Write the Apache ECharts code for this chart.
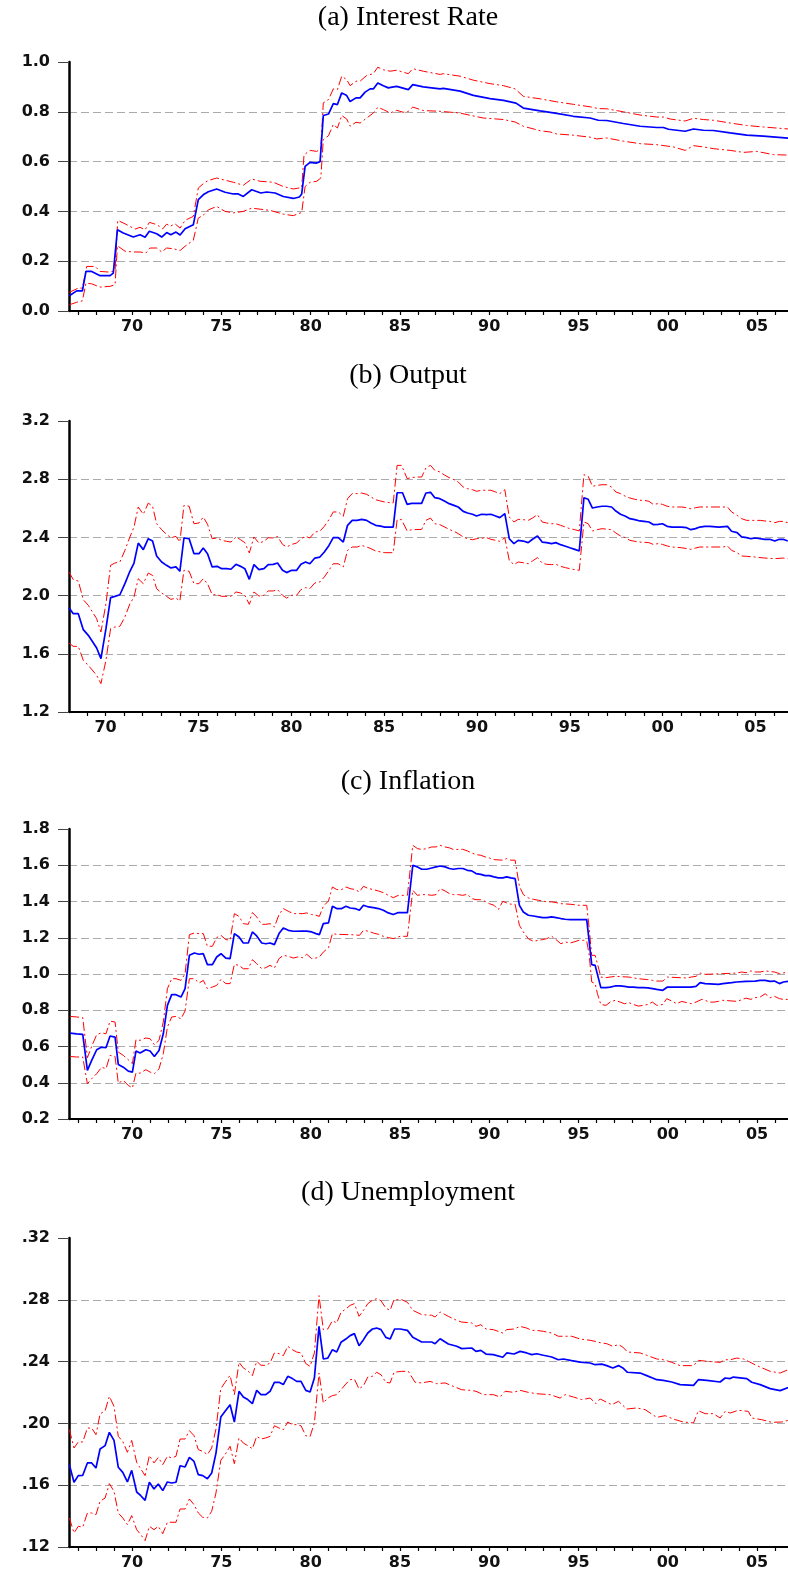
<!DOCTYPE html>
<html>
<head>
<meta charset="utf-8">
<script src="https://cdn.jsdelivr.net/npm/echarts@6/dist/echarts.min.js"></script>
<style>
  html, body { margin: 0; padding: 0; background: #fff; }
  #chart { width: 788px; height: 1577px; }
</style>
</head>
<body>
<div id="chart"></div>
<script>
// panel titles
const titles = ['(a) Interest Rate', '(b) Output', '(c) Inflation', '(d) Unemployment'];
const labelYears = [1970, 1975, 1980, 1985, 1990, 1995, 2000, 2005];

// (a) interest rate: [year, value]
const rateMid = [[1966.49,0.061],[1966.90,0.081],[1967.22,0.081],[1967.42,0.159],[1967.74,0.159],[1968.21,0.142],[1968.77,0.142],[1968.95,0.152],[1969.18,0.326],[1969.51,0.313],[1970.07,0.297],[1970.45,0.306],[1970.73,0.296],[1970.97,0.320],[1971.38,0.31],[1971.66,0.297],[1971.94,0.315],[1972.17,0.306],[1972.46,0.317],[1972.69,0.305],[1972.97,0.330],[1973.43,0.346],[1973.71,0.447],[1974.03,0.469],[1974.27,0.479],[1974.74,0.490],[1975.21,0.477],[1975.67,0.470],[1975.95,0.470],[1976.23,0.460],[1976.70,0.487],[1977.21,0.474],[1977.54,0.478],[1978.01,0.474],[1978.47,0.460],[1979.03,0.452],[1979.37,0.458],[1979.50,0.470],[1979.69,0.581],[1979.97,0.597],[1980.30,0.594],[1980.53,0.600],[1980.71,0.785],[1981.00,0.791],[1981.27,0.833],[1981.50,0.829],[1981.74,0.876],[1982.02,0.865],[1982.21,0.841],[1982.54,0.856],[1982.77,0.856],[1983.05,0.879],[1983.33,0.892],[1983.51,0.892],[1983.76,0.916],[1984.07,0.905],[1984.35,0.896],[1984.64,0.9],[1984.82,0.902],[1985.47,0.889],[1985.72,0.909],[1986.31,0.9],[1987.25,0.892],[1987.43,0.894],[1988.37,0.883],[1989.11,0.866],[1990.05,0.853],[1990.80,0.846],[1991.50,0.835],[1991.91,0.815],[1992.85,0.804],[1993.78,0.794],[1994.71,0.782],[1995.65,0.775],[1996.11,0.766],[1996.58,0.765],[1997.51,0.753],[1998.45,0.742],[1999.38,0.737],[1999.75,0.737],[2000.04,0.73],[2000.97,0.722],[2001.44,0.731],[2001.99,0.726],[2002.55,0.725],[2003.49,0.715],[2004.42,0.706],[2005.35,0.702],[2006.75,0.694]];
const rateUp = [[1966.49,0.075],[1966.99,0.092],[1967.22,0.092],[1967.46,0.179],[1967.93,0.179],[1968.21,0.159],[1968.77,0.156],[1969.05,0.163],[1969.20,0.364],[1969.61,0.35],[1970.17,0.329],[1970.45,0.336],[1970.73,0.326],[1970.97,0.356],[1971.38,0.347],[1971.72,0.33],[1971.94,0.349],[1972.13,0.34],[1972.41,0.35],[1972.69,0.333],[1972.97,0.364],[1973.43,0.38],[1973.71,0.494],[1974.03,0.514],[1974.27,0.524],[1974.74,0.534],[1975.67,0.517],[1976.23,0.505],[1976.70,0.53],[1977.17,0.521],[1977.91,0.517],[1978.47,0.5],[1979.03,0.49],[1979.50,0.496],[1979.63,0.627],[1979.97,0.645],[1980.34,0.641],[1980.57,0.651],[1980.71,0.836],[1981.00,0.849],[1981.27,0.892],[1981.50,0.889],[1981.74,0.943],[1982.02,0.929],[1982.21,0.905],[1982.54,0.923],[1982.77,0.923],[1983.14,0.946],[1983.51,0.953],[1983.76,0.979],[1984.07,0.969],[1984.45,0.963],[1984.82,0.967],[1985.47,0.953],[1985.72,0.973],[1986.31,0.963],[1987.25,0.95],[1987.43,0.953],[1988.37,0.943],[1989.11,0.927],[1990.05,0.913],[1990.80,0.905],[1991.45,0.892],[1991.91,0.862],[1992.85,0.852],[1993.78,0.84],[1994.71,0.83],[1995.65,0.82],[1996.11,0.813],[1996.58,0.812],[1997.51,0.8],[1998.45,0.787],[1999.38,0.779],[1999.75,0.779],[2000.13,0.771],[2000.97,0.763],[2001.44,0.774],[2001.99,0.769],[2002.55,0.766],[2003.49,0.755],[2004.42,0.745],[2005.35,0.739],[2006.75,0.731]];
const rateLo = [[1966.49,0.025],[1966.90,0.035],[1967.22,0.041],[1967.42,0.112],[1967.74,0.109],[1968.21,0.096],[1968.77,0.099],[1969.05,0.106],[1969.18,0.262],[1969.61,0.24],[1970.07,0.237],[1970.45,0.237],[1970.78,0.233],[1971.01,0.253],[1971.38,0.253],[1971.66,0.237],[1971.94,0.253],[1972.31,0.25],[1972.69,0.243],[1972.97,0.26],[1973.43,0.284],[1973.71,0.373],[1974.03,0.387],[1974.27,0.406],[1974.74,0.42],[1975.21,0.4],[1975.67,0.394],[1976.23,0.4],[1976.70,0.413],[1977.17,0.409],[1977.73,0.404],[1978.47,0.389],[1979.03,0.383],[1979.50,0.396],[1979.69,0.5],[1979.97,0.517],[1980.34,0.521],[1980.57,0.534],[1980.71,0.688],[1981.00,0.704],[1981.27,0.749],[1981.50,0.735],[1981.74,0.785],[1982.02,0.771],[1982.21,0.742],[1982.54,0.758],[1982.77,0.755],[1983.14,0.775],[1983.51,0.795],[1983.76,0.818],[1984.07,0.809],[1984.45,0.795],[1984.82,0.806],[1985.19,0.798],[1985.47,0.802],[1985.72,0.819],[1986.31,0.805],[1987.25,0.802],[1988.37,0.795],[1988.93,0.786],[1989.67,0.775],[1990.80,0.769],[1991.45,0.759],[1991.91,0.742],[1992.85,0.724],[1993.41,0.719],[1993.78,0.711],[1994.71,0.706],[1995.65,0.698],[1996.02,0.691],[1996.58,0.695],[1997.51,0.682],[1998.45,0.672],[1999.38,0.668],[2000.31,0.659],[2000.97,0.645],[2001.44,0.664],[2001.99,0.659],[2002.55,0.652],[2003.49,0.645],[2004.24,0.637],[2004.98,0.641],[2005.91,0.628],[2006.75,0.626]];

// (b) output
const outMid = [[1968.03,1.917],[1968.26,1.876],[1968.53,1.876],[1968.80,1.766],[1969.07,1.727],[1969.52,1.64],[1969.75,1.567],[1970.02,1.773],[1970.27,1.986],[1970.50,1.995],[1970.77,2.006],[1971.04,2.082],[1971.31,2.167],[1971.53,2.224],[1971.76,2.361],[1972.03,2.316],[1972.30,2.391],[1972.53,2.375],[1972.75,2.272],[1973.02,2.231],[1973.28,2.208],[1973.52,2.19],[1973.79,2.197],[1974.00,2.167],[1974.22,2.396],[1974.50,2.391],[1974.76,2.288],[1975.03,2.288],[1975.26,2.327],[1975.49,2.288],[1975.74,2.197],[1976.01,2.201],[1976.25,2.185],[1976.52,2.185],[1976.75,2.181],[1977.02,2.215],[1977.27,2.201],[1977.50,2.185],[1977.74,2.112],[1977.99,2.213],[1978.26,2.178],[1978.53,2.185],[1978.76,2.213],[1979.03,2.215],[1979.26,2.224],[1979.53,2.174],[1979.75,2.158],[1980.02,2.174],[1980.29,2.174],[1980.52,2.215],[1980.77,2.231],[1981.00,2.219],[1981.27,2.258],[1981.54,2.265],[1981.78,2.3],[1982.03,2.345],[1982.26,2.398],[1982.53,2.398],[1982.80,2.368],[1983.03,2.483],[1983.28,2.517],[1983.55,2.517],[1983.79,2.524],[1984.06,2.517],[1984.29,2.499],[1984.54,2.483],[1984.81,2.478],[1985.04,2.471],[1985.49,2.471],[1985.70,2.707],[1985.99,2.707],[1986.24,2.627],[1986.48,2.634],[1987.02,2.634],[1987.25,2.705],[1987.50,2.71],[1987.73,2.673],[1988.00,2.666],[1988.27,2.648],[1988.50,2.632],[1988.76,2.62],[1988.99,2.609],[1989.26,2.579],[1989.49,2.568],[1989.76,2.559],[1989.98,2.547],[1990.25,2.559],[1990.52,2.556],[1990.75,2.559],[1991.00,2.547],[1991.23,2.536],[1991.50,2.563],[1991.74,2.391],[1991.99,2.357],[1992.22,2.38],[1992.49,2.375],[1992.76,2.364],[1992.99,2.387],[1993.26,2.41],[1993.51,2.368],[1993.75,2.364],[1994.02,2.357],[1994.25,2.364],[1994.50,2.35],[1994.77,2.339],[1995.00,2.329],[1995.27,2.318],[1995.51,2.307],[1995.76,2.673],[1995.99,2.662],[1996.22,2.602],[1996.47,2.609],[1996.74,2.614],[1996.98,2.614],[1997.25,2.609],[1997.48,2.581],[1997.73,2.559],[1998.00,2.545],[1998.23,2.529],[1998.50,2.522],[1998.77,2.513],[1999.00,2.51],[1999.26,2.506],[1999.49,2.488],[1999.76,2.49],[1999.99,2.494],[2000.24,2.476],[2000.51,2.471],[2001.02,2.471],[2001.29,2.467],[2001.52,2.453],[2001.77,2.46],[2002.00,2.471],[2002.27,2.476],[2002.54,2.476],[2003.03,2.471],[2003.49,2.476],[2003.71,2.442],[2004.01,2.433],[2004.25,2.403],[2004.52,2.398],[2004.75,2.391],[2005.00,2.396],[2005.50,2.387],[2005.77,2.387],[2006.04,2.375],[2006.28,2.387],[2006.49,2.387],[2006.74,2.375]];
const outUp = [[1968.03,2.162],[1968.26,2.11],[1968.53,2.1],[1968.80,1.972],[1969.07,1.933],[1969.52,1.841],[1969.75,1.75],[1970.02,1.944],[1970.27,2.208],[1970.50,2.224],[1970.77,2.231],[1971.04,2.311],[1971.31,2.403],[1971.53,2.471],[1971.76,2.609],[1972.03,2.559],[1972.30,2.636],[1972.53,2.614],[1972.75,2.494],[1973.02,2.453],[1973.28,2.421],[1973.52,2.398],[1973.79,2.407],[1974.00,2.368],[1974.22,2.62],[1974.50,2.614],[1974.76,2.494],[1975.03,2.499],[1975.26,2.54],[1975.49,2.49],[1975.74,2.391],[1976.01,2.396],[1976.25,2.38],[1976.52,2.373],[1976.75,2.368],[1977.02,2.403],[1977.27,2.384],[1977.50,2.364],[1977.74,2.293],[1977.99,2.403],[1978.26,2.361],[1978.53,2.373],[1978.76,2.398],[1979.03,2.396],[1979.26,2.407],[1979.53,2.352],[1979.75,2.334],[1980.02,2.352],[1980.29,2.361],[1980.52,2.391],[1980.77,2.407],[1981.00,2.396],[1981.27,2.437],[1981.54,2.442],[1981.78,2.476],[1982.03,2.522],[1982.26,2.575],[1982.53,2.575],[1982.80,2.545],[1983.03,2.666],[1983.28,2.701],[1983.55,2.701],[1983.79,2.705],[1984.06,2.696],[1984.29,2.678],[1984.54,2.659],[1984.81,2.65],[1985.04,2.643],[1985.49,2.636],[1985.70,2.895],[1985.94,2.895],[1986.24,2.804],[1986.48,2.811],[1986.75,2.815],[1987.02,2.815],[1987.25,2.877],[1987.50,2.895],[1987.73,2.861],[1988.00,2.85],[1988.27,2.827],[1988.50,2.811],[1988.76,2.797],[1988.99,2.781],[1989.26,2.746],[1989.49,2.735],[1989.76,2.728],[1989.98,2.717],[1990.25,2.724],[1990.75,2.724],[1991.00,2.712],[1991.23,2.701],[1991.50,2.728],[1991.74,2.54],[1991.99,2.506],[1992.22,2.524],[1992.49,2.522],[1992.76,2.517],[1992.99,2.533],[1993.26,2.556],[1993.51,2.506],[1993.75,2.499],[1994.02,2.494],[1994.25,2.494],[1994.50,2.483],[1994.77,2.471],[1995.00,2.46],[1995.27,2.453],[1995.51,2.444],[1995.76,2.831],[1995.99,2.82],[1996.22,2.751],[1996.47,2.758],[1996.74,2.762],[1996.98,2.762],[1997.25,2.746],[1997.48,2.712],[1997.73,2.701],[1998.00,2.682],[1998.23,2.671],[1998.50,2.662],[1998.77,2.655],[1999.00,2.655],[1999.26,2.648],[1999.49,2.627],[1999.76,2.632],[1999.99,2.627],[2000.24,2.614],[2000.51,2.609],[2001.02,2.609],[2001.29,2.604],[2001.52,2.597],[2001.77,2.604],[2002.00,2.609],[2003.49,2.609],[2003.71,2.575],[2004.01,2.552],[2004.25,2.529],[2004.52,2.517],[2005.27,2.517],[2005.50,2.513],[2005.77,2.51],[2006.04,2.501],[2006.28,2.51],[2006.49,2.51],[2006.74,2.501]];
const outLo = [[1968.03,1.674],[1968.26,1.651],[1968.53,1.651],[1968.80,1.555],[1969.07,1.521],[1969.52,1.452],[1969.75,1.395],[1970.02,1.555],[1970.27,1.773],[1970.50,1.784],[1970.77,1.789],[1971.04,1.853],[1971.31,1.944],[1971.53,1.99],[1971.76,2.116],[1972.03,2.082],[1972.30,2.155],[1972.53,2.139],[1972.75,2.047],[1973.02,2.018],[1973.28,1.995],[1973.52,1.974],[1973.79,1.983],[1974.00,1.963],[1974.22,2.174],[1974.50,2.167],[1974.76,2.082],[1975.03,2.082],[1975.26,2.116],[1975.49,2.082],[1975.74,2.006],[1976.01,2.006],[1976.25,1.995],[1976.75,1.995],[1977.02,2.025],[1977.27,2.018],[1977.50,2.002],[1977.74,1.94],[1977.99,2.025],[1978.26,1.997],[1978.53,2.002],[1978.76,2.032],[1979.03,2.032],[1979.26,2.041],[1979.53,2.002],[1979.75,1.983],[1980.02,2.002],[1980.29,2.002],[1980.52,2.041],[1980.77,2.055],[1981.00,2.048],[1981.27,2.087],[1981.54,2.094],[1981.78,2.128],[1982.03,2.174],[1982.26,2.219],[1982.53,2.219],[1982.80,2.197],[1983.03,2.311],[1983.28,2.334],[1983.55,2.334],[1983.79,2.345],[1984.06,2.334],[1984.29,2.323],[1984.54,2.307],[1984.81,2.3],[1985.04,2.295],[1985.49,2.295],[1985.70,2.522],[1985.94,2.522],[1986.24,2.444],[1986.48,2.453],[1987.02,2.455],[1987.25,2.517],[1987.50,2.533],[1987.73,2.494],[1988.00,2.488],[1988.27,2.471],[1988.50,2.455],[1988.76,2.442],[1988.99,2.426],[1989.26,2.403],[1989.49,2.391],[1989.76,2.384],[1989.98,2.391],[1990.52,2.398],[1990.75,2.387],[1991.00,2.38],[1991.23,2.373],[1991.50,2.398],[1991.74,2.242],[1991.99,2.213],[1992.22,2.231],[1992.49,2.226],[1992.76,2.219],[1992.99,2.238],[1993.26,2.261],[1993.51,2.224],[1993.75,2.215],[1994.02,2.213],[1994.25,2.215],[1994.50,2.201],[1994.77,2.192],[1995.00,2.185],[1995.27,2.178],[1995.51,2.174],[1995.76,2.506],[1995.99,2.494],[1996.22,2.444],[1996.47,2.453],[1996.74,2.46],[1997.25,2.453],[1997.48,2.43],[1997.73,2.41],[1998.00,2.398],[1998.23,2.38],[1998.50,2.373],[1998.77,2.368],[1999.26,2.364],[1999.49,2.352],[1999.76,2.357],[1999.99,2.352],[2000.24,2.341],[2000.51,2.334],[2001.02,2.329],[2001.52,2.318],[2001.77,2.327],[2002.00,2.334],[2003.26,2.334],[2003.49,2.341],[2003.71,2.311],[2004.01,2.295],[2004.25,2.272],[2004.52,2.27],[2005.00,2.265],[2005.50,2.258],[2006.04,2.254],[2006.49,2.258],[2006.74,2.254]];

// (c) inflation
const inflMid = [[1966.53,0.674],[1966.90,0.670],[1967.24,0.667],[1967.50,0.468],[1967.74,0.523],[1968.02,0.582],[1968.30,0.597],[1968.54,0.593],[1968.77,0.658],[1969.05,0.652],[1969.23,0.501],[1969.51,0.486],[1969.79,0.464],[1970.02,0.459],[1970.22,0.575],[1970.45,0.564],[1970.77,0.582],[1971.01,0.575],[1971.25,0.545],[1971.51,0.578],[1971.75,0.67],[1971.98,0.827],[1972.22,0.886],[1972.46,0.886],[1972.74,0.873],[1972.97,0.919],[1973.21,1.103],[1973.49,1.116],[1973.75,1.109],[1973.99,1.112],[1974.22,1.052],[1974.50,1.052],[1974.74,1.094],[1974.98,1.112],[1975.25,1.088],[1975.49,1.085],[1975.73,1.223],[1975.99,1.204],[1976.23,1.171],[1976.51,1.171],[1976.74,1.232],[1976.98,1.21],[1977.26,1.171],[1977.49,1.167],[1977.73,1.171],[1977.97,1.162],[1978.23,1.223],[1978.47,1.254],[1978.75,1.241],[1979.03,1.236],[1979.56,1.237],[1979.78,1.237],[1980.06,1.232],[1980.30,1.223],[1980.49,1.217],[1980.71,1.278],[1981.00,1.282],[1981.22,1.374],[1981.46,1.361],[1981.74,1.361],[1981.98,1.374],[1982.21,1.364],[1982.49,1.361],[1982.73,1.352],[1982.96,1.379],[1983.24,1.37],[1983.51,1.366],[1983.80,1.361],[1984.07,1.352],[1984.35,1.337],[1984.63,1.328],[1984.91,1.339],[1985.42,1.339],[1985.72,1.6],[1985.98,1.591],[1986.22,1.578],[1986.50,1.578],[1986.78,1.585],[1987.02,1.591],[1987.25,1.596],[1987.53,1.591],[1987.77,1.582],[1987.99,1.578],[1988.27,1.582],[1988.52,1.582],[1988.78,1.572],[1989.02,1.569],[1989.26,1.554],[1989.53,1.55],[1989.77,1.543],[1990.01,1.543],[1990.27,1.536],[1990.51,1.53],[1990.76,1.53],[1990.98,1.536],[1991.21,1.53],[1991.45,1.526],[1991.69,1.379],[1991.91,1.342],[1992.19,1.324],[1992.47,1.32],[1992.75,1.315],[1993.00,1.311],[1993.22,1.311],[1993.50,1.315],[1993.74,1.311],[1994.01,1.306],[1994.25,1.302],[1994.53,1.3],[1995.46,1.3],[1995.59,1.186],[1995.74,1.052],[1995.93,1.048],[1996.06,0.998],[1996.25,0.925],[1996.54,0.925],[1996.77,0.928],[1997.05,0.934],[1997.33,0.934],[1997.57,0.932],[1997.83,0.928],[1998.07,0.928],[1998.35,0.925],[1998.64,0.925],[1998.88,0.923],[1999.14,0.919],[1999.38,0.915],[1999.72,0.91],[1999.98,0.928],[2001.30,0.928],[2001.58,0.932],[2001.81,0.952],[2002.09,0.947],[2002.84,0.943],[2003.08,0.947],[2003.58,0.952],[2003.86,0.956],[2004.38,0.959],[2004.89,0.961],[2005.17,0.965],[2005.45,0.965],[2005.73,0.959],[2005.97,0.961],[2006.25,0.947],[2006.47,0.956],[2006.75,0.959]];
const inflUp = [[1966.53,0.766],[1966.90,0.763],[1967.24,0.759],[1967.50,0.538],[1967.74,0.601],[1968.02,0.665],[1968.30,0.676],[1968.54,0.670],[1968.77,0.74],[1969.05,0.735],[1969.23,0.569],[1969.51,0.551],[1969.79,0.527],[1970.02,0.505],[1970.22,0.637],[1970.45,0.634],[1970.77,0.647],[1971.01,0.643],[1971.25,0.61],[1971.51,0.634],[1971.75,0.735],[1971.98,0.919],[1972.22,0.974],[1972.46,0.974],[1972.74,0.965],[1972.97,1.002],[1973.21,1.217],[1973.49,1.226],[1973.75,1.223],[1973.99,1.223],[1974.22,1.153],[1974.50,1.153],[1974.74,1.201],[1974.98,1.213],[1975.25,1.19],[1975.49,1.186],[1975.73,1.333],[1975.99,1.318],[1976.23,1.278],[1976.51,1.274],[1976.74,1.339],[1976.98,1.315],[1977.26,1.274],[1977.49,1.274],[1977.73,1.278],[1977.97,1.259],[1978.23,1.328],[1978.47,1.361],[1978.75,1.346],[1979.03,1.333],[1979.56,1.333],[1979.78,1.337],[1980.06,1.328],[1980.30,1.324],[1980.49,1.318],[1980.71,1.374],[1981.00,1.403],[1981.22,1.48],[1981.46,1.466],[1981.74,1.466],[1981.98,1.48],[1982.21,1.471],[1982.49,1.466],[1982.73,1.453],[1982.96,1.484],[1983.24,1.471],[1983.51,1.466],[1983.80,1.458],[1984.07,1.449],[1984.35,1.434],[1984.63,1.421],[1984.91,1.434],[1985.42,1.434],[1985.72,1.71],[1985.98,1.692],[1986.22,1.687],[1986.50,1.692],[1986.78,1.701],[1987.02,1.701],[1987.25,1.71],[1987.53,1.701],[1987.77,1.696],[1987.99,1.687],[1988.52,1.688],[1988.78,1.679],[1989.02,1.668],[1989.26,1.659],[1989.53,1.655],[1989.77,1.646],[1990.01,1.64],[1990.27,1.631],[1990.76,1.628],[1990.98,1.637],[1991.21,1.628],[1991.45,1.628],[1991.69,1.484],[1991.91,1.438],[1992.19,1.42],[1992.47,1.412],[1992.75,1.407],[1993.00,1.403],[1993.22,1.398],[1993.50,1.398],[1993.74,1.394],[1994.01,1.388],[1994.53,1.385],[1995.03,1.379],[1995.46,1.379],[1995.59,1.259],[1995.74,1.103],[1995.93,1.103],[1996.06,1.057],[1996.25,0.983],[1996.54,0.98],[1997.05,0.987],[1997.83,0.983],[1998.35,0.974],[1998.88,0.969],[1999.14,0.965],[1999.38,0.961],[1999.72,0.961],[1999.98,0.983],[2001.06,0.978],[2001.30,0.983],[2001.58,0.987],[2001.81,1.005],[2002.09,0.998],[2003.08,1.002],[2003.86,1.005],[2004.14,1.011],[2004.38,1.007],[2004.65,1.017],[2004.89,1.011],[2005.17,1.011],[2005.45,1.017],[2005.97,1.011],[2006.25,1.002],[2006.75,1.011]];
const inflLo = [[1966.53,0.545],[1966.90,0.542],[1967.24,0.542],[1967.50,0.394],[1967.74,0.422],[1968.02,0.45],[1968.30,0.486],[1968.54,0.477],[1968.77,0.551],[1969.05,0.545],[1969.23,0.398],[1969.51,0.413],[1969.79,0.385],[1970.02,0.372],[1970.22,0.453],[1970.45,0.453],[1970.77,0.472],[1971.01,0.459],[1971.25,0.45],[1971.51,0.477],[1971.75,0.56],[1971.98,0.707],[1972.22,0.763],[1972.46,0.766],[1972.74,0.753],[1972.97,0.796],[1973.21,0.974],[1973.49,0.974],[1973.75,0.95],[1973.99,0.965],[1974.22,0.919],[1974.50,0.928],[1974.74,0.937],[1974.98,0.97],[1975.25,0.947],[1975.49,0.947],[1975.73,1.053],[1975.99,1.048],[1976.23,1.029],[1976.51,1.029],[1976.74,1.079],[1976.98,1.057],[1977.26,1.029],[1977.49,1.035],[1977.73,1.048],[1977.97,1.033],[1978.23,1.085],[1978.47,1.103],[1978.75,1.098],[1979.03,1.088],[1979.28,1.094],[1979.56,1.09],[1979.78,1.109],[1980.06,1.085],[1980.30,1.088],[1980.49,1.094],[1980.71,1.121],[1981.00,1.145],[1981.22,1.223],[1981.46,1.219],[1982.49,1.216],[1982.73,1.213],[1982.96,1.241],[1983.24,1.236],[1983.51,1.226],[1983.80,1.219],[1984.07,1.208],[1984.35,1.201],[1984.63,1.195],[1985.01,1.208],[1985.42,1.208],[1985.72,1.462],[1985.98,1.434],[1986.22,1.438],[1986.50,1.438],[1986.78,1.434],[1987.02,1.438],[1987.25,1.471],[1987.53,1.458],[1987.77,1.444],[1987.99,1.438],[1988.27,1.438],[1988.52,1.434],[1988.78,1.44],[1989.02,1.416],[1989.26,1.41],[1989.53,1.41],[1989.77,1.401],[1990.01,1.388],[1990.27,1.379],[1990.51,1.355],[1990.76,1.401],[1990.98,1.392],[1991.21,1.385],[1991.45,1.385],[1991.69,1.269],[1991.91,1.232],[1992.19,1.195],[1992.47,1.18],[1992.75,1.186],[1993.00,1.19],[1993.22,1.195],[1993.50,1.208],[1993.74,1.19],[1994.01,1.167],[1994.25,1.177],[1994.53,1.171],[1994.75,1.177],[1995.03,1.186],[1995.27,1.186],[1995.46,1.182],[1995.59,1.112],[1995.74,0.956],[1995.93,0.947],[1996.06,0.891],[1996.25,0.832],[1996.54,0.827],[1996.77,0.845],[1997.05,0.855],[1997.33,0.845],[1997.57,0.836],[1997.83,0.842],[1998.07,0.832],[1998.35,0.823],[1998.64,0.827],[1998.88,0.832],[1999.14,0.845],[1999.38,0.827],[1999.72,0.832],[1999.94,0.864],[2000.26,0.849],[2000.50,0.836],[2000.78,0.849],[2001.06,0.842],[2001.30,0.836],[2001.58,0.845],[2001.90,0.86],[2002.09,0.855],[2002.33,0.845],[2002.59,0.845],[2002.84,0.849],[2003.08,0.855],[2003.86,0.849],[2004.14,0.858],[2004.38,0.867],[2004.65,0.86],[2004.89,0.869],[2005.17,0.873],[2005.45,0.891],[2005.73,0.869],[2005.97,0.877],[2006.25,0.864],[2006.47,0.86],[2006.75,0.86]];

// (d) unemployment
const unempMid = [[1966.49,0.1733],[1966.75,0.1619],[1966.99,0.1662],[1967.24,0.1664],[1967.50,0.1744],[1967.74,0.1744],[1967.98,0.1711],[1968.21,0.1834],[1968.49,0.1856],[1968.73,0.1942],[1968.99,0.189],[1969.23,0.1716],[1969.48,0.1683],[1969.74,0.1621],[1969.98,0.1696],[1970.26,0.1556],[1970.49,0.1532],[1970.73,0.1502],[1970.97,0.1619],[1971.23,0.1575],[1971.47,0.1608],[1971.72,0.1565],[1971.98,0.1621],[1972.22,0.1614],[1972.46,0.1619],[1972.69,0.1726],[1972.97,0.1718],[1973.21,0.178],[1973.47,0.1754],[1973.71,0.1668],[1973.96,0.1662],[1974.22,0.1642],[1974.46,0.1679],[1974.70,0.1808],[1974.97,0.2041],[1975.21,0.2078],[1975.49,0.2121],[1975.73,0.2009],[1975.99,0.2208],[1976.23,0.2171],[1976.48,0.2154],[1976.74,0.2128],[1976.98,0.2214],[1977.22,0.2186],[1977.49,0.2186],[1977.73,0.2208],[1977.97,0.2266],[1978.23,0.2266],[1978.47,0.2251],[1978.72,0.2305],[1978.98,0.229],[1979.22,0.2272],[1979.46,0.2272],[1979.73,0.2214],[1979.97,0.2203],[1980.21,0.2294],[1980.47,0.2628],[1980.71,0.2417],[1980.96,0.2423],[1981.22,0.2477],[1981.46,0.2462],[1981.70,0.2525],[1981.97,0.2546],[1982.21,0.2568],[1982.45,0.2581],[1982.71,0.2503],[1982.96,0.2542],[1983.20,0.2585],[1983.46,0.2611],[1983.70,0.2617],[1983.94,0.2607],[1984.21,0.2557],[1984.45,0.2546],[1984.70,0.2611],[1985.01,0.2611],[1985.42,0.2602],[1985.72,0.2557],[1986.22,0.2527],[1986.78,0.2527],[1986.97,0.2516],[1987.25,0.2548],[1987.71,0.2514],[1988.18,0.2499],[1988.46,0.2484],[1989.02,0.2488],[1989.26,0.2466],[1989.53,0.2473],[1989.82,0.2449],[1990.23,0.2445],[1990.76,0.2428],[1990.98,0.2456],[1991.39,0.2449],[1991.73,0.2466],[1992.10,0.2456],[1992.38,0.2445],[1992.66,0.2451],[1993.03,0.2441],[1993.50,0.243],[1993.87,0.2412],[1994.15,0.2417],[1994.62,0.2406],[1995.09,0.2397],[1995.65,0.2391],[1995.93,0.238],[1996.30,0.2384],[1996.58,0.2374],[1996.92,0.2359],[1997.24,0.2374],[1997.48,0.2359],[1997.74,0.2331],[1998.45,0.2326],[1998.82,0.2309],[1999.38,0.2283],[1999.75,0.2279],[2000.22,0.2268],[2000.69,0.2251],[2001.44,0.2246],[2001.71,0.2283],[2002.18,0.2279],[2002.93,0.2268],[2003.21,0.2294],[2003.49,0.229],[2003.67,0.23],[2004.42,0.229],[2004.70,0.2266],[2005.17,0.2251],[2005.73,0.2225],[2006.29,0.2212],[2006.75,0.2233]];
const unempUp = [[1966.49,0.196],[1966.75,0.1841],[1966.99,0.188],[1967.24,0.188],[1967.50,0.197],[1967.74,0.197],[1967.98,0.1927],[1968.21,0.2061],[1968.49,0.2082],[1968.73,0.2175],[1968.99,0.211],[1969.23,0.1916],[1969.48,0.1884],[1969.74,0.1813],[1969.98,0.189],[1970.26,0.1748],[1970.49,0.1705],[1970.73,0.1662],[1970.97,0.1793],[1971.23,0.1744],[1971.47,0.178],[1971.72,0.1733],[1971.98,0.1787],[1972.22,0.1776],[1972.46,0.1787],[1972.69,0.1899],[1972.97,0.1899],[1973.21,0.1953],[1973.47,0.1921],[1973.71,0.183],[1973.96,0.1819],[1974.22,0.1798],[1974.46,0.1841],[1974.70,0.1964],[1974.97,0.2225],[1975.21,0.2266],[1975.49,0.2311],[1975.73,0.2186],[1975.99,0.2395],[1976.23,0.2359],[1976.48,0.2341],[1976.74,0.2309],[1976.98,0.2402],[1977.22,0.2376],[1977.49,0.2376],[1977.73,0.2391],[1977.97,0.2456],[1978.23,0.2452],[1978.47,0.2438],[1978.72,0.2499],[1978.98,0.2477],[1979.22,0.2462],[1979.46,0.2456],[1979.73,0.2387],[1979.97,0.2369],[1980.21,0.2456],[1980.47,0.2827],[1980.71,0.2607],[1980.96,0.2611],[1981.22,0.2665],[1981.46,0.265],[1981.70,0.2719],[1981.97,0.274],[1982.21,0.2764],[1982.45,0.2775],[1982.71,0.2693],[1982.96,0.2732],[1983.20,0.2775],[1983.46,0.2797],[1983.70,0.2807],[1983.94,0.2794],[1984.21,0.2747],[1984.45,0.2732],[1984.67,0.2801],[1985.10,0.2801],[1985.42,0.2784],[1985.72,0.2732],[1986.22,0.2704],[1986.78,0.27],[1986.97,0.2689],[1987.25,0.2721],[1987.71,0.2693],[1988.18,0.2667],[1988.46,0.2656],[1989.02,0.265],[1989.26,0.2628],[1989.53,0.2639],[1989.82,0.2611],[1990.23,0.2607],[1990.76,0.2585],[1990.98,0.2607],[1991.39,0.2611],[1991.73,0.2628],[1992.10,0.2617],[1992.38,0.2602],[1992.66,0.2602],[1993.03,0.2596],[1993.50,0.2585],[1993.87,0.2564],[1994.15,0.2564],[1994.62,0.2564],[1995.09,0.2546],[1995.65,0.2538],[1995.93,0.2531],[1996.30,0.252],[1996.58,0.2516],[1996.92,0.2499],[1997.24,0.251],[1997.48,0.2494],[1997.74,0.2462],[1998.45,0.2456],[1998.82,0.2441],[1999.38,0.2417],[1999.75,0.2412],[2000.22,0.2395],[2000.69,0.2374],[2001.44,0.2374],[2001.71,0.2408],[2002.18,0.2402],[2002.93,0.2395],[2003.21,0.2412],[2003.49,0.2412],[2003.86,0.2423],[2004.24,0.2417],[2004.51,0.2402],[2004.98,0.2374],[2005.73,0.2337],[2006.29,0.2326],[2006.75,0.2348]];
const unempLo = [[1966.49,0.1388],[1966.75,0.1291],[1966.99,0.1334],[1967.24,0.1329],[1967.50,0.142],[1967.74,0.142],[1967.98,0.1409],[1968.21,0.1496],[1968.49,0.1517],[1968.73,0.161],[1968.99,0.156],[1969.23,0.142],[1969.48,0.1388],[1969.74,0.1345],[1969.98,0.1403],[1970.26,0.1312],[1970.49,0.128],[1970.73,0.1241],[1970.97,0.1334],[1971.23,0.1312],[1971.47,0.1334],[1971.72,0.1286],[1971.98,0.136],[1972.46,0.136],[1972.69,0.1446],[1972.97,0.1446],[1973.21,0.1511],[1973.47,0.1474],[1973.71,0.142],[1973.96,0.1392],[1974.22,0.1388],[1974.46,0.1431],[1974.70,0.155],[1974.97,0.1761],[1975.21,0.1798],[1975.49,0.1852],[1975.73,0.1739],[1975.99,0.1906],[1976.23,0.1873],[1976.48,0.1856],[1976.74,0.1836],[1976.98,0.1916],[1977.22,0.1899],[1977.49,0.1906],[1977.73,0.1916],[1977.97,0.1985],[1978.23,0.197],[1978.47,0.1959],[1978.72,0.2009],[1978.98,0.1992],[1979.22,0.1992],[1979.46,0.1985],[1979.73,0.192],[1979.97,0.1916],[1980.21,0.2003],[1980.47,0.2326],[1980.71,0.2132],[1980.96,0.2164],[1981.22,0.218],[1981.46,0.2186],[1981.70,0.2218],[1981.97,0.2255],[1982.21,0.2283],[1982.45,0.2287],[1982.71,0.2223],[1982.96,0.2244],[1983.20,0.23],[1983.46,0.2305],[1983.70,0.2331],[1983.94,0.2315],[1984.21,0.2266],[1984.45,0.2262],[1984.67,0.2331],[1985.10,0.2337],[1985.47,0.2337],[1985.85,0.2266],[1986.22,0.2262],[1986.69,0.2272],[1987.06,0.2257],[1987.53,0.2262],[1987.90,0.2244],[1988.46,0.2218],[1988.93,0.2214],[1989.26,0.2208],[1989.67,0.2186],[1990.23,0.2186],[1990.61,0.2171],[1990.89,0.2208],[1991.35,0.2201],[1991.73,0.2214],[1992.19,0.2201],[1992.66,0.2192],[1993.41,0.2186],[1993.97,0.2164],[1994.25,0.2186],[1994.71,0.2171],[1995.18,0.2154],[1995.65,0.2164],[1995.98,0.2128],[1996.21,0.2158],[1996.86,0.2121],[1997.24,0.2143],[1997.70,0.2093],[1998.26,0.21],[1998.73,0.2089],[1999.38,0.2039],[1999.85,0.205],[2000.31,0.2028],[2000.87,0.2009],[2001.44,0.2003],[2001.71,0.2082],[2002.09,0.2063],[2002.55,0.2063],[2002.93,0.2035],[2003.21,0.2078],[2003.49,0.2067],[2003.95,0.2085],[2004.51,0.2078],[2004.70,0.2035],[2005.26,0.2024],[2005.82,0.2007],[2006.38,0.2009],[2006.75,0.202]];

// layout of the four panels
const panels = [
  { top: 62, height: 249, xMin: 1966.47, xMax: 2006.73, yMin: 0, yMax: 1, step: 0.2, digits: 1, titleY: 18, data: [rateUp, rateLo, rateMid] },
  { top: 421, height: 291, xMin: 1968.03, xMax: 2006.75, yMin: 1.2, yMax: 3.2, step: 0.4, digits: 1, titleY: 376, data: [outUp, outLo, outMid] },
  { top: 829, height: 290, xMin: 1966.47, xMax: 2006.73, yMin: 0.2, yMax: 1.8, step: 0.2, digits: 1, titleY: 782, data: [inflUp, inflLo, inflMid] },
  { top: 1238, height: 309, xMin: 1966.47, xMax: 2006.73, yMin: 0.12, yMax: 0.32, step: 0.04, digits: 2, titleY: 1193, data: [unempUp, unempLo, unempMid] }
];

const tickFont = { fontFamily: '"DejaVu Sans", sans-serif', fontWeight: 'bold', fontSize: 16, color: '#111' };

let option = { animation: false, backgroundColor: '#fff', grid: [], xAxis: [], yAxis: [], series: [], graphic: [] };

panels.forEach(function (p, i) {
  let tickYears = [];
  for (let y = Math.ceil(p.xMin); y <= Math.floor(p.xMax); y++) tickYears.push(y);

  option.grid.push({ left: 69, top: p.top, width: 719, height: p.height });
  option.xAxis.push({
    type: 'value', gridIndex: i, min: p.xMin, max: p.xMax,
    axisLine: { lineStyle: { color: '#000', width: 2 } },
    axisTick: { customValues: tickYears, length: 4, lineStyle: { color: '#000', width: 1.2 } },
    axisLabel: Object.assign({
      customValues: labelYears, margin: 8,
      formatter: function (v) { return String(Math.round(v) % 100).padStart(2, '0'); }
    }, tickFont),
    splitLine: { show: false }
  });
  option.yAxis.push({
    type: 'value', gridIndex: i, min: p.yMin, max: p.yMax, interval: p.step,
    axisLine: { show: true, lineStyle: { color: '#000', width: 2.5 } },
    axisTick: { length: 11, lineStyle: { color: '#444', width: 1 } },
    axisLabel: Object.assign({
      margin: 19,
      formatter: function (v) {
        let s = v.toFixed(p.digits);
        return p.digits === 2 ? s.replace(/^0/, '') : s;
      }
    }, tickFont),
    splitLine: { show: true, showMinLine: false, showMaxLine: false, lineStyle: { color: '#aaa', width: 1, type: [8, 4] } }
  });
  // red bands first, blue estimate on top
  p.data.forEach(function (d, k) {
    let mid = k === 2;
    option.series.push({
      type: 'line', xAxisIndex: i, yAxisIndex: i, data: d, symbol: 'none', silent: true,
      lineStyle: mid ? { color: '#0000ff', width: 1.7 } : { color: '#ff0000', width: 1, type: [9, 3, 2, 3] },
      z: mid ? 3 : 2
    });
  });
  option.graphic.push({
    type: 'text', x: 408, y: p.titleY, silent: true,
    style: {
      text: titles[i], fill: '#000', fontSize: 28, fontFamily: '"Liberation Serif", "Times New Roman", serif',
      align: 'center', verticalAlign: 'middle', textAlign: 'center', textVerticalAlign: 'middle'
    }
  });
});

let chart = echarts.init(document.getElementById('chart'), null, { renderer: 'canvas' });
chart.setOption(option);
</script>
</body>
</html>
